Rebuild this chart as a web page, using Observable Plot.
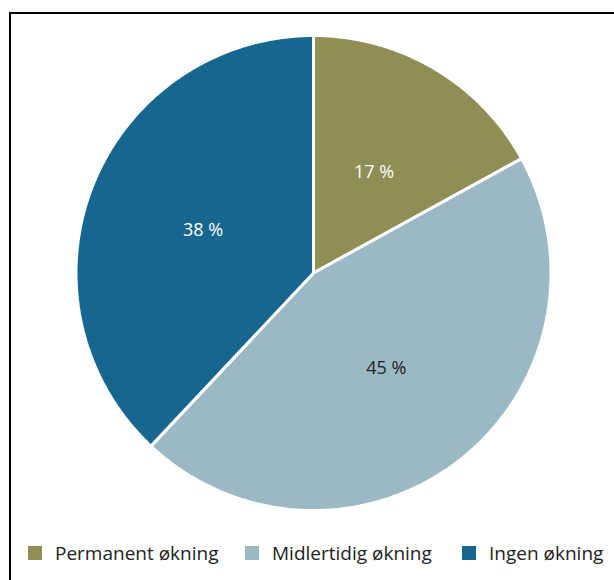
<!DOCTYPE html>
<html>
<head>
<meta charset="utf-8">
<script src="https://cdn.jsdelivr.net/npm/d3@7"></script>
<script src="https://cdn.jsdelivr.net/npm/@observablehq/plot@0.6"></script>
<style>
  html, body { margin: 0; padding: 0; background: #fff; }
  body { width: 614px; height: 580px; position: relative; overflow: hidden; font-family: "Open Sans", sans-serif; }
  #frame { position: absolute; left: 9px; top: 12px; width: 700px; height: 700px; border: 2.5px solid #000; box-sizing: border-box; }
  #chart { position: absolute; left: 0; top: 0; }
  #legend { position: absolute; left: 0; top: 539px; width: 614px; height: 28px; font-size: 19px; color: #222; }
  .item { position: absolute; top: 0; height: 28px; display: flex; align-items: center; white-space: nowrap; }
  .sw { width: 14px; height: 14px; margin-right: 13px; flex: none; }
</style>
</head>
<body>
<div id="frame"></div>
<div id="chart"></div>
<div id="legend"></div>
<script>
const categories = ["Permanent økning", "Midlertidig økning", "Ingen økning"];
const values = [17, 45, 38];
const colors = ["#8e8e55", "#9bb9c5", "#16668f"];
const labelColors = ["#ffffff", "#222222", "#ffffff"];

const total = d3.sum(values);
const pieData = [];
let acc = 0;
categories.forEach((c, i) => {
  const a0 = acc / total * 2 * Math.PI;
  acc += values[i];
  const a1 = acc / total * 2 * Math.PI;
  pieData.push({category: c, value: values[i], a0, a1, color: colors[i], labelColor: labelColors[i]});
});

function wedge(d) {
  const ring = [[0, 0]];
  const n = Math.max(2, Math.ceil((d.a1 - d.a0) / 0.01));
  for (let k = 0; k <= n; k++) {
    const a = d.a0 + (d.a1 - d.a0) * k / n;
    ring.push([Math.sin(a), Math.cos(a)]);
  }
  ring.push([0, 0]);
  return {type: "Feature", properties: d, geometry: {type: "Polygon", coordinates: [ring]}};
}
const features = pieData.map(wedge);
const circle = {type: "Polygon", coordinates: [d3.range(0, 361, 2).map(t => [Math.sin(t * Math.PI / 180), Math.cos(t * Math.PI / 180)])]};

const labels = pieData.map(d => {
  const m = (d.a0 + d.a1) / 2;
  return {x: 0.5 * Math.sin(m), y: 0.5 * Math.cos(m), text: d.value + " %", color: d.labelColor};
});

const chart = Plot.plot({
  width: 614,
  height: 530,
  marginLeft: 75,
  marginRight: 63,
  marginTop: 35,
  marginBottom: 20,
  projection: {type: "reflect-y", domain: circle},
  marks: [
    Plot.geo(features, {fill: d => d.properties.color, stroke: "#fff", strokeWidth: 3, strokeLinejoin: "miter"}),
    Plot.text(labels, {x: "x", y: "y", dy: 1, text: "text", fill: "color", fontSize: 18, fontFamily: "Open Sans"})
  ]
});
chart.style.fontFamily = "Open Sans, sans-serif";
document.getElementById("chart").appendChild(chart);

const legend = document.getElementById("legend");
const legendLeft = [28, 245, 462];
categories.forEach((c, i) => {
  const it = document.createElement("div");
  it.className = "item";
  it.style.left = legendLeft[i] + "px";
  const sw = document.createElement("div");
  sw.className = "sw";
  sw.style.background = colors[i];
  const t = document.createElement("span");
  t.textContent = c;
  it.appendChild(sw);
  it.appendChild(t);
  legend.appendChild(it);
});
</script>
</body>
</html>
